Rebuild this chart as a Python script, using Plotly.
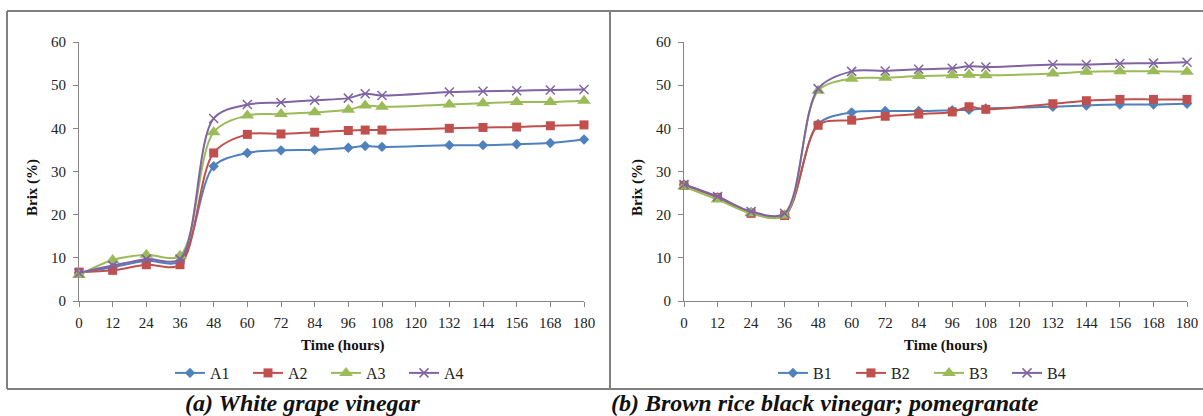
import plotly.graph_objects as go

W, H = 1203, 416

hours = [0, 12, 24, 36, 48, 60, 72, 84, 96, 102, 108, 132, 144, 156, 168, 180]
x_ticks = [0, 12, 24, 36, 48, 60, 72, 84, 96, 108, 120, 132, 144, 156, 168, 180]
y_ticks = [0, 10, 20, 30, 40, 50, 60]

A1 = [6.5, 7.8, 9.3, 9.2, 31.2, 34.3, 34.9, 35.0, 35.5, 35.9, 35.7, 36.1, 36.1, 36.3, 36.6, 37.4]
A2 = [6.7, 7.1, 8.4, 8.4, 34.3, 38.6, 38.7, 39.1, 39.5, 39.6, 39.6, 40.0, 40.2, 40.3, 40.6, 40.8]
A3 = [6.0, 9.5, 10.7, 10.5, 39.1, 43.0, 43.3, 43.7, 44.3, 45.3, 45.0, 45.5, 45.8, 46.1, 46.1, 46.4]
A4 = [6.5, 8.2, 9.7, 9.7, 42.3, 45.5, 46.0, 46.5, 47.0, 48.0, 47.6, 48.4, 48.6, 48.7, 48.9, 49.0]

B1 = [27.0, 24.0, 20.6, 20.0, 41.0, 43.7, 44.0, 44.0, 44.2, 44.3, 44.6, 45.0, 45.3, 45.5, 45.5, 45.7]
B2 = [26.8, 24.0, 20.3, 19.8, 40.7, 41.9, 42.8, 43.3, 43.8, 45.0, 44.4, 45.7, 46.4, 46.7, 46.7, 46.7]
B3 = [26.5, 23.5, 20.3, 19.8, 48.7, 51.5, 51.7, 52.1, 52.3, 52.4, 52.3, 52.7, 53.1, 53.2, 53.2, 53.1]
B4 = [27.0, 24.2, 20.7, 20.3, 49.2, 53.2, 53.3, 53.7, 53.9, 54.4, 54.2, 54.8, 54.8, 55.0, 55.1, 55.3]

series_a = {"A1": A1, "A2": A2, "A3": A3, "A4": A4}
series_b = {"B1": B1, "B2": B2, "B3": B3, "B4": B4}

colors = ["#4F81BD", "#C0504D", "#9BBB59", "#8064A2"]
symbols = ["diamond", "square", "triangle-up", "x-thin-open"]
sizes = [8, 9, 12, 9]

FONT = "Liberation Serif"
AX = "#868686"


def px_x(p):
    return p / W


def px_y(p):
    return (H - p) / H


fig = go.Figure()

for panel, (series, xa, ya, leg) in enumerate([
    (series_a, "x", "y", "legend"),
    (series_b, "x2", "y2", "legend2"),
]):
    for i, (name, vals) in enumerate(series.items()):
        sym = symbols[i]
        marker = dict(symbol=sym, size=sizes[i], color=colors[i])
        if sym == "x-thin-open":
            marker["line"] = dict(color=colors[i], width=1.5)
        fig.add_trace(go.Scatter(
            x=hours, y=vals, name=name, mode="lines+markers",
            line=dict(color=colors[i], width=2, shape="spline", smoothing=0.9),
            marker=marker, xaxis=xa, yaxis=ya, legend=leg, cliponaxis=False,
        ))

axis_common = dict(
    showgrid=False, zeroline=False, showline=True, linecolor=AX, linewidth=1,
    ticks="outside", ticklen=5, tickcolor=AX, tickwidth=1, automargin=False,
    tickfont=dict(family=FONT, size=15, color="#222"),
)

dom_ax = [px_x(79), px_x(584)]
dom_bx = [px_x(684), px_x(1187)]
dom_y = [px_y(301), px_y(42)]

legend_common = dict(
    orientation="h", yanchor="middle", y=px_y(373),
    font=dict(family=FONT, size=16, color="#222"),
    entrywidth=33, entrywidthmode="pixels", bgcolor="rgba(0,0,0,0)",
    itemwidth=30, tracegroupgap=0, xanchor="center",
)

fig.update_layout(
    template="none",
    width=W, height=H, margin=dict(l=0, r=0, t=0, b=0, autoexpand=False),
    paper_bgcolor="white", plot_bgcolor="white",
    xaxis=dict(domain=dom_ax, range=[0, 180], tickvals=x_ticks, anchor="y",
               ticklabelstandoff=3, **axis_common),
    yaxis=dict(domain=dom_y, range=[0, 60], tickvals=y_ticks, anchor="x",
               ticklabelstandoff=4, **axis_common),
    xaxis2=dict(domain=dom_bx, range=[0, 180], tickvals=x_ticks, anchor="y2",
                ticklabelstandoff=3, **axis_common),
    yaxis2=dict(domain=dom_y, range=[0, 60], tickvals=y_ticks, anchor="x2",
                ticklabelstandoff=4, **axis_common),
    legend=dict(x=px_x(326), **legend_common),
    legend2=dict(x=px_x(929), **legend_common),
    showlegend=True,
)

annotations = [
    dict(text="<b>Time (hours)</b>", x=px_x(342), y=px_y(345)),
    dict(text="<b>Time (hours)</b>", x=px_x(945), y=px_y(345)),
    dict(text="<b>Brix (%)</b>", x=px_x(33), y=px_y(188), textangle=-90),
    dict(text="<b>Brix (%)</b>", x=px_x(638), y=px_y(188), textangle=-90),
]
for a in annotations:
    fig.add_annotation(xref="paper", yref="paper", showarrow=False,
                       xanchor="center", yanchor="middle",
                       font=dict(family=FONT, size=15, color="#111"), **a)

captions = [
    ("<b><i>(a) White grape vinegar</i></b>", 303),
    ("<b><i>(b) Brown rice black vinegar; pomegranate</i></b>", 825),
]
for text, cx in captions:
    fig.add_annotation(xref="paper", yref="paper", showarrow=False, text=text,
                       x=px_x(cx), y=px_y(403), xanchor="center", yanchor="middle",
                       font=dict(family=FONT, size=24, color="#111"))

BORDER = "#808080"
lines = [
    (7, 11, 1203, 11),
    (7, 389, 1203, 389),
    (7, 11, 7, 389),
    (610, 11, 610, 389),
]
for x0, y0, x1, y1 in lines:
    fig.add_shape(type="line", xref="paper", yref="paper",
                  x0=px_x(x0), y0=px_y(y0), x1=px_x(x1), y1=px_y(y1),
                  line=dict(color=BORDER, width=2))

fig.write_html(
    "out.html",
    config={"displayModeBar": False},
    post_script="document.body.style.margin='0';document.body.style.overflow='hidden';",
)
